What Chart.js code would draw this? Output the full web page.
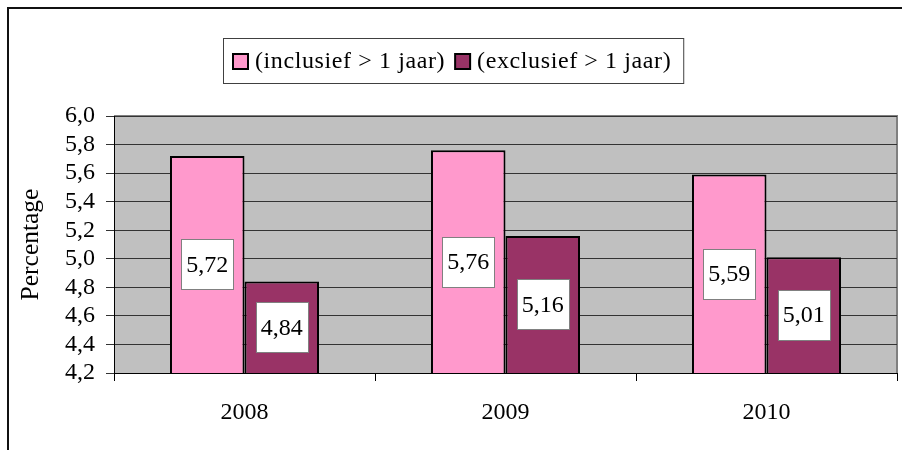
<!DOCTYPE html>
<html>
<head>
<meta charset="utf-8">
<script src="https://cdn.jsdelivr.net/npm/chart.js@4/dist/chart.umd.min.js"></script>
<style>
  html, body { margin: 0; padding: 0; background: #fff; }
  #wrap { width: 902px; height: 450px; }
</style>
</head>
<body>
<div id="wrap"><canvas id="myChart" width="902" height="450"></canvas></div>
<script>
const years = ['2008', '2009', '2010'];
const inclusief = [5.72, 5.76, 5.59];
const exclusief = [4.84, 5.16, 5.01];
const seriesNames = ['(inclusief > 1 jaar)', '(exclusief > 1 jaar)'];
const yTicks = [4.2, 4.4, 4.6, 4.8, 5.0, 5.2, 5.4, 5.6, 5.8, 6.0];

const SERIF = "'Liberation Serif', 'Times New Roman', serif";
const fmt = v => v.toFixed(2).replace('.', ',');

// grey plot area with a thin grey border on top and right
const plotBg = {
  id: 'plotBg',
  beforeDraw(chart) {
    const { ctx, chartArea: a } = chart;
    ctx.save();
    ctx.fillStyle = '#c0c0c0';
    ctx.fillRect(a.left, a.top, a.right - a.left, a.bottom - a.top);
    ctx.strokeStyle = '#808080';
    ctx.lineWidth = 2;
    ctx.beginPath();
    ctx.moveTo(a.left, a.top);
    ctx.lineTo(a.right, a.top);
    ctx.lineTo(a.right, a.bottom);
    ctx.stroke();
    ctx.restore();
  }
};

// white value boxes in the middle of each bar, legend box and outer frame
const extras = {
  id: 'extras',
  afterDraw(chart) {
    const { ctx, chartArea } = chart;
    const yScale = chart.scales.y;
    ctx.save();
    ctx.font = '24px ' + SERIF;
    chart.data.datasets.forEach((ds, i) => {
      const meta = chart.getDatasetMeta(i);
      meta.data.forEach((bar, j) => {
        const { x } = bar.getProps(['x'], true);
        const top = yScale.getPixelForValue(ds.data[j]);
        const mid = (top + chartArea.bottom) / 2;
        const bw = 52, bh = 50;
        const bx = Math.round(x - bw / 2), by = Math.round(mid - bh / 2);
        ctx.fillStyle = '#fff';
        ctx.fillRect(bx, by, bw, bh);
        ctx.strokeStyle = '#808080';
        ctx.lineWidth = 1;
        ctx.strokeRect(bx + 0.5, by + 0.5, bw, bh);
        ctx.fillStyle = '#000';
        ctx.textAlign = 'center';
        ctx.textBaseline = 'middle';
        ctx.fillText(fmt(ds.data[j]), x, mid + 1);
      });
    });

    // legend
    ctx.letterSpacing = '0.6px';
    const sq = 15, gap = 7, between = 10, padL = 10, padR = 12;
    const widths = chart.data.datasets.map(d => ctx.measureText(d.label).width);
    let total = padL + padR;
    widths.forEach((w, i) => { total += sq + gap + w + (i > 0 ? between : 0); });
    const lLeft = Math.round(453.5 - total / 2), lTop = 38, lH = 45;
    ctx.strokeStyle = '#404040';
    ctx.lineWidth = 1;
    ctx.strokeRect(lLeft + 0.5, lTop + 0.5, total, lH);
    let lx = lLeft + padL;
    const ly = lTop + lH / 2;
    chart.data.datasets.forEach((d, i) => {
      ctx.fillStyle = d.backgroundColor;
      ctx.fillRect(lx, ly - sq / 2 + 1, sq, sq);
      ctx.strokeStyle = '#000';
      ctx.lineWidth = 2;
      ctx.strokeRect(lx, ly - sq / 2 + 1, sq, sq);
      ctx.fillStyle = '#000';
      ctx.textAlign = 'left';
      ctx.textBaseline = 'middle';
      ctx.fillText(d.label, lx + sq + gap, ly + 1);
      lx += sq + gap + widths[i] + between;
    });
    ctx.letterSpacing = '0px';

    // outer frame
    ctx.strokeStyle = '#111';
    ctx.lineWidth = 2;
    ctx.beginPath();
    ctx.moveTo(8, 450);
    ctx.lineTo(8, 8);
    ctx.lineTo(902, 8);
    ctx.stroke();
    ctx.restore();
  }
};

const chart1 = document.getElementById('myChart').getContext('2d');
new Chart(chart1, {
  type: 'bar',
  data: {
    labels: years,
    datasets: [{
      label: seriesNames[0],
      data: inclusief,
      backgroundColor: '#ff99cc',
      borderColor: '#000',
      borderWidth: 2,
      borderSkipped: false
    }, {
      label: seriesNames[1],
      data: exclusief,
      backgroundColor: '#993366',
      borderColor: '#000',
      borderWidth: 2,
      borderSkipped: false
    }]
  },
  options: {
    responsive: false,
    animation: false,
    events: [],
    categoryPercentage: 0.571,
    barPercentage: 1.0,
    layout: { padding: { top: 116, right: 5, left: 0, bottom: 0 } },
    plugins: {
      legend: { display: false },
      tooltip: { enabled: false }
    },
    scales: {
      x: {
        offset: true,
        grid: { display: true, drawOnChartArea: false, offset: true, tickLength: 8, color: '#000' },
        border: { display: true, color: '#000', width: 1 },
        ticks: { font: { family: SERIF, size: 24 }, color: '#000', padding: 17 },
        afterFit(scale) { scale.height = 77; }
      },
      y: {
        min: yTicks[0],
        max: yTicks[yTicks.length - 1],
        grid: { color: '#333', tickLength: 8, lineWidth: 1 },
        border: { display: true, color: '#000', width: 1 },
        ticks: {
          autoSkip: false,
          font: { family: SERIF, size: 24 },
          color: '#000',
          padding: 11,
          callback: v => v.toFixed(1).replace('.', ',')
        },
        afterBuildTicks(scale) { scale.ticks = yTicks.map(v => ({ value: v })); },
        title: {
          display: true,
          text: 'Percentage',
          font: { family: SERIF, size: 25.5 },
          color: '#000',
          padding: { top: 16, bottom: 0 }
        },
        afterFit(scale) { scale.width = 114; }
      }
    }
  },
  plugins: [plotBg, extras]
});
</script>
</body>
</html>
